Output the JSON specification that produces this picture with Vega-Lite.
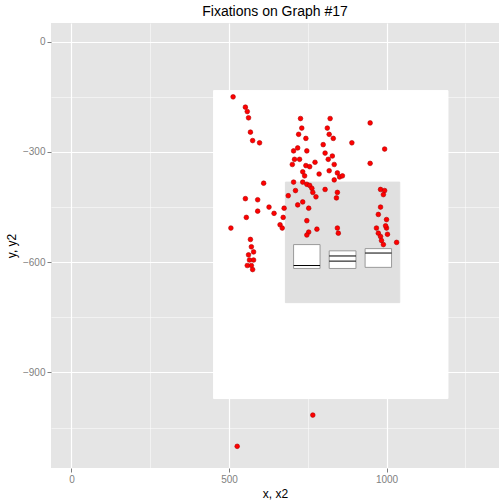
{
  "$schema": "https://vega.github.io/schema/vega-lite/v6.json",
  "autosize": {"type": "fit", "contains": "padding"},
  "width": 504,
  "height": 504,
  "background": "white",
  "title": {"text": "Fixations on Graph #17", "fontSize": 14, "fontWeight": "normal", "font": "Liberation Sans", "color": "black"},
  "config": {
    "view": {"fill": "#E5E5E5", "stroke": null},
    "axis": {"gridColor": "white", "domain": false, "tickColor": "#7F7F7F", "labelColor": "#7F7F7F", "labelFont": "Liberation Sans", "labelFontSize": 10, "titleFont": "Liberation Sans", "titleFontSize": 12, "titleFontWeight": "normal", "titleColor": "black",
      "gridWidth": {"condition": {"test": "datum.value % 300 == 0 && datum.value % 500 == 0 || datum.value % 300 == 0 && datum.value <= 0 && datum.value % 150 == 0 && (datum.value / 150) % 2 == 0", "value": 1.2}, "value": 0.5}}
  },
  "encoding": {
    "x": {"type": "quantitative", "scale": {"domain": [-65, 1357], "nice": false, "zero": false}},
    "y": {"type": "quantitative", "scale": {"domain": [-1160, 51], "nice": false, "zero": false}}
  },
  "layer": [
    {
      "data": {"values": [{"a": 0}]},
      "mark": {"type": "point", "opacity": 0},
      "encoding": {
        "x": {"datum": 0, "type": "quantitative", "title": "Location.X", "axis": {"values": [0, 250, 500, 750, 1000, 1250], "labelExpr": "datum.value % 500 == 0 ? datum.label : ''", "format": "d", "ticks": true, "grid": true, "gridWidth": {"condition": {"test": "datum.value % 500 == 0", "value": 1.2}, "value": 0.5}, "tickSize": {"condition": {"test": "datum.value % 500 == 0", "value": 4}, "value": 0}}},
        "y": {"datum": 0, "type": "quantitative", "title": "Location.Y", "axis": {"values": [0, -150, -300, -450, -600, -750, -900, -1050], "labelExpr": "datum.value % 300 == 0 ? datum.label : ''", "format": "d", "grid": true, "gridWidth": {"condition": {"test": "datum.value % 300 == 0", "value": 1.2}, "value": 0.5}, "tickSize": {"condition": {"test": "datum.value % 300 == 0", "value": 4}, "value": 0}}}
      }
    },
    {
      "data": {"values": [
        {"x": 451, "x2": 1195, "y": -133, "y2": -971, "part": "image"},
        {"x": 679, "x2": 1042, "y": -382, "y2": -710, "part": "inset"},
        {"x": 705, "x2": 789, "y": -552, "y2": -617, "part": "box"},
        {"x": 818, "x2": 903, "y": -569, "y2": -617, "part": "box"},
        {"x": 932, "x2": 1016, "y": -563, "y2": -614, "part": "box"}
      ]},
      "mark": {"type": "rect"},
      "encoding": {
        "x": {"field": "x", "type": "quantitative"},
        "x2": {"field": "x2"},
        "y": {"field": "y", "type": "quantitative"},
        "y2": {"field": "y2"},
        "fill": {"field": "part", "type": "nominal", "scale": {"domain": ["image", "inset", "box"], "range": ["white", "#E0E0E0", "white"]}, "legend": null},
        "stroke": {"field": "part", "type": "nominal", "scale": {"domain": ["image", "inset", "box"], "range": ["white", "#E0E0E0", "#999999"]}, "legend": null},
        "order": {"value": 0}
      }
    },
    {
      "data": {"values": [
        {"x": 705, "x2": 789, "y": -609},
        {"x": 818, "x2": 903, "y": -583},
        {"x": 818, "x2": 903, "y": -597},
        {"x": 932, "x2": 1016, "y": -575}
      ]},
      "mark": {"type": "rule", "color": "black", "strokeWidth": 1},
      "encoding": {
        "x": {"field": "x", "type": "quantitative"},
        "x2": {"field": "x2"},
        "y": {"field": "y", "type": "quantitative"}
      }
    },
    {
      "data": {"values": [
        {"x": 513, "y": -150}, {"x": 552, "y": -178}, {"x": 558, "y": -190}, {"x": 562, "y": -207},
        {"x": 568, "y": -246}, {"x": 575, "y": -269}, {"x": 597, "y": -275}, {"x": 506, "y": -507},
        {"x": 552, "y": -427}, {"x": 555, "y": -478}, {"x": 568, "y": -538}, {"x": 571, "y": -558},
        {"x": 578, "y": -572}, {"x": 562, "y": -580}, {"x": 565, "y": -594}, {"x": 571, "y": -609},
        {"x": 575, "y": -620}, {"x": 558, "y": -609}, {"x": 578, "y": -594}, {"x": 591, "y": -430},
        {"x": 591, "y": -461}, {"x": 610, "y": -385}, {"x": 643, "y": -467}, {"x": 662, "y": -498},
        {"x": 669, "y": -507}, {"x": 672, "y": -478}, {"x": 675, "y": -453}, {"x": 688, "y": -419},
        {"x": 701, "y": -334}, {"x": 708, "y": -320}, {"x": 724, "y": -320}, {"x": 734, "y": -354},
        {"x": 721, "y": -252}, {"x": 731, "y": -235}, {"x": 727, "y": -209}, {"x": 744, "y": -263},
        {"x": 718, "y": -289}, {"x": 705, "y": -297}, {"x": 747, "y": -297}, {"x": 744, "y": -337},
        {"x": 740, "y": -365}, {"x": 734, "y": -382}, {"x": 747, "y": -388}, {"x": 756, "y": -391},
        {"x": 763, "y": -399}, {"x": 766, "y": -410}, {"x": 776, "y": -422}, {"x": 734, "y": -436},
        {"x": 718, "y": -444}, {"x": 711, "y": -405}, {"x": 705, "y": -382}, {"x": 753, "y": -453},
        {"x": 747, "y": -487}, {"x": 753, "y": -518}, {"x": 747, "y": -526}, {"x": 779, "y": -510},
        {"x": 756, "y": -340}, {"x": 773, "y": -328}, {"x": 786, "y": -360}, {"x": 805, "y": -402},
        {"x": 818, "y": -351}, {"x": 815, "y": -320}, {"x": 805, "y": -303}, {"x": 799, "y": -280},
        {"x": 818, "y": -252}, {"x": 812, "y": -235}, {"x": 821, "y": -209}, {"x": 831, "y": -263},
        {"x": 828, "y": -311}, {"x": 834, "y": -334}, {"x": 844, "y": -357}, {"x": 851, "y": -368},
        {"x": 860, "y": -365}, {"x": 834, "y": -376}, {"x": 844, "y": -410}, {"x": 841, "y": -425},
        {"x": 844, "y": -507}, {"x": 847, "y": -521}, {"x": 890, "y": -275}, {"x": 948, "y": -221},
        {"x": 948, "y": -331}, {"x": 981, "y": -402}, {"x": 994, "y": -292}, {"x": 994, "y": -405},
        {"x": 990, "y": -416}, {"x": 981, "y": -450}, {"x": 974, "y": -470}, {"x": 968, "y": -507},
        {"x": 974, "y": -521}, {"x": 981, "y": -530}, {"x": 984, "y": -541}, {"x": 990, "y": -552},
        {"x": 1000, "y": -484}, {"x": 1000, "y": -507}, {"x": 1003, "y": -524}, {"x": 997, "y": -501},
        {"x": 1032, "y": -546}, {"x": 766, "y": -1016}, {"x": 526, "y": -1101}, {"x": 627, "y": -450}
      ]},
      "mark": {"type": "circle", "size": 22, "color": "red", "opacity": 1, "stroke": "#B00000", "strokeWidth": 0.6},
      "encoding": {
        "x": {"field": "x", "type": "quantitative"},
        "y": {"field": "y", "type": "quantitative"}
      }
    }
  ]
}
